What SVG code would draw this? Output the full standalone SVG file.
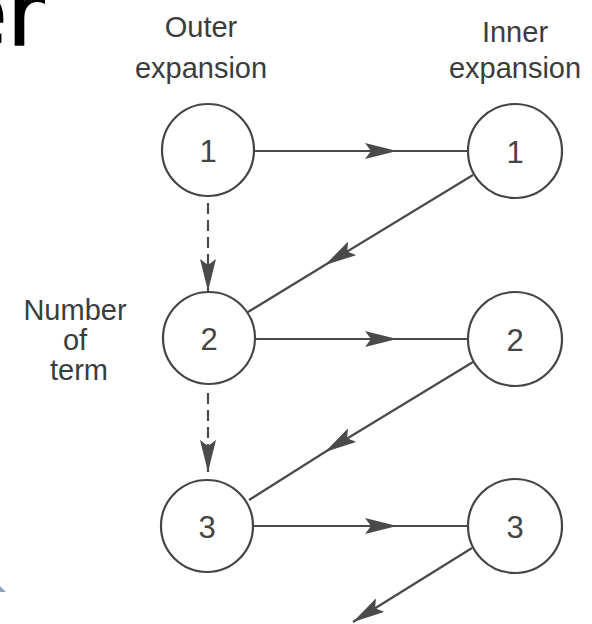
<svg xmlns="http://www.w3.org/2000/svg" width="592" height="624" viewBox="0 0 592 624">
  <style>
    .node circle { fill: #ffffff; stroke: #454545; stroke-width: 2.2; }
    .num { font-family: "Liberation Sans", Arial, sans-serif; font-size: 31px; fill: #444444; text-anchor: middle; }
    .lbl { font-family: "Liberation Sans", Arial, sans-serif; font-size: 29px; fill: #3c3c3c; text-anchor: middle; }
    .edge { fill: none; stroke: #4a4a4a; stroke-width: 2.2; }
    .dash { stroke-dasharray: 11 6; }
  </style>
  <defs>
    <marker id="barb" viewBox="0 -8 32 16" markerUnits="userSpaceOnUse" markerWidth="32" markerHeight="16" refX="32" refY="0" orient="auto">
      <path d="M0,-8 L32,0 L0,8 L6,0 Z" fill="#4a4a4a"/>
    </marker>
  </defs>

  <rect width="592" height="624" fill="#ffffff"/>

  <!-- large heading fragment at the top-left edge -->
  <text x="-48" y="45" font-family="'DejaVu Sans', sans-serif" font-size="90" stroke="#000000" stroke-width="1.5" fill="#000000">er</text>
  <!-- small blue corner fragment -->
  <polygon points="0,586 6,592 0,592" fill="#90a3c2"/>

  <!-- column headings and row label -->
  <g id="labels">
    <text class="lbl" x="201" y="37">Outer</text>
    <text class="lbl" x="201" y="78">expansion</text>
    <text class="lbl" x="515" y="42">Inner</text>
    <text class="lbl" x="515" y="78">expansion</text>
    <text class="lbl" x="75" y="320">Number</text>
    <text class="lbl" x="75" y="350">of</text>
    <text class="lbl" x="79" y="380">term</text>
  </g>

  <g id="connectors">
    <!-- outer -> inner, same order -->
    <path class="edge" d="M254,151 L397,151 L469,151" marker-mid="url(#barb)"/>
    <path class="edge" d="M255,339 L397,339 L469,339" marker-mid="url(#barb)"/>
    <path class="edge" d="M253,526 L397,526 L469,526" marker-mid="url(#barb)"/>
    <!-- inner -> next outer -->
    <path class="edge" d="M473,175 L325,265 L248,312" marker-mid="url(#barb)"/>
    <path class="edge" d="M473,362 L325,452 L249,500" marker-mid="url(#barb)"/>
    <path class="edge" d="M472,548 L353,622" marker-end="url(#barb)"/>
    <!-- outer order to order, dashed -->
    <path class="edge dash" d="M208,203 L208,291" marker-end="url(#barb)"/>
    <path class="edge dash" d="M208,393 L208,472" marker-end="url(#barb)"/>
  </g>

  <g id="outer1" class="node"><circle cx="208" cy="150" r="46"/><text class="num" x="208" y="162">1</text></g>
  <g id="outer2" class="node"><circle cx="209" cy="338" r="46"/><text class="num" x="209" y="350">2</text></g>
  <g id="outer3" class="node"><circle cx="207" cy="526" r="46"/><text class="num" x="207" y="538">3</text></g>
  <g id="inner1" class="node"><circle cx="515" cy="151" r="47"/><text class="num" x="515" y="163">1</text></g>
  <g id="inner2" class="node"><circle cx="515" cy="339" r="47"/><text class="num" x="515" y="351">2</text></g>
  <g id="inner3" class="node"><circle cx="515" cy="526" r="47"/><text class="num" x="515" y="538">3</text></g>
</svg>
